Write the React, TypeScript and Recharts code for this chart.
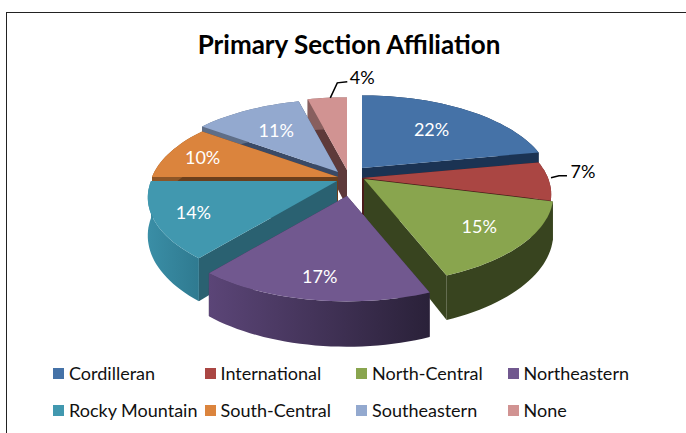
import { PieChart, Pie, Legend } from "recharts";

const sections = ["Cordilleran", "International", "North-Central", "Northeastern", "Rocky Mountain", "South-Central", "Southeastern", "None"];
const shares = [22, 7, 15, 17, 14, 10, 11, 4];

const topColors = ["#4572a7", "#aa4643", "#89a54e", "#71588f", "#4198af", "#db843d", "#93a9cf", "#d19392"];
const edgeColors = ["#1b3353", "#4a1c1b", "#38441f", "#3a2c4c", "#2a6171", "#6b3f1c", "#3a4a66", "#5e3a3a"];
const rimFrom = ["#1b3353", "#6e2c2b", "#38441f", "#5b4577", "#3a8ea6", "#8e5627", "#5f6e87", "#885f5e"];
const rimTo = ["#1b3353", "#6e2c2b", "#38441f", "#2a2139", "#2f7a90", "#8e5627", "#5f6e87", "#885f5e"];

// how far each slice is pulled out of the pie, in px
const pullX = [12, 12, 14, -3, -13, -12, -12, -3];
const pullY = [-10, 0, 1, 18, 3, -1, -6, -8];
const labelReach = [0.64, 1, 0.75, 0.8, 0.8, 0.8, 0.65, 1];

// back to front, so the front walls cover the rear ones
const wallOrder = [7, 6, 5, 0, 1, 4, 2, 3];

const table = sections.map((name, i) => ({ name, value: shares[i] }));

const CX = 350;
const CY = 178;
const RX = 186;
const RY = 86;
const PERSPECTIVE = 0.184;
const DEPTH = 37;

// 3d tilt: angle is clockwise from the top, far side of the pie is squeezed
function project(deg: number, reach = 1) {
  const a = (deg * Math.PI) / 180;
  const d = 1 + PERSPECTIVE * Math.cos(a) * reach;
  return { x: (Math.sin(a) * RX * reach) / d, y: (-Math.cos(a) * RY * reach) / d, d };
}

function arcPoints(p: any) {
  const from = 90 - p.startAngle;
  const to = 90 - p.endAngle;
  const n = Math.max(2, Math.ceil((to - from) / 2));
  const pts = [];
  for (let i = 0; i <= n; i++) pts.push(project(from + ((to - from) * i) / n));
  return pts;
}

const toPath = (pts: number[][]) => "M" + pts.map((q) => q[0].toFixed(1) + " " + q[1].toFixed(1)).join("L") + "Z";

function WallShape(p: any, only: number) {
  if (p.index !== only) return <g />;
  const ox = p.cx + pullX[only];
  const oy = p.cy + pullY[only];
  const arc = arcPoints(p);
  const first = arc[0];
  const last = arc[arc.length - 1];
  const top = arc.map((q) => [q.x, q.y]);
  const low = arc.map((q) => [q.x, q.y + DEPTH / q.d]).reverse();
  const side = (q: any) => toPath([[0, 0], [q.x, q.y], [q.x, q.y + DEPTH / q.d], [0, DEPTH]]);
  return (
    <g transform={`translate(${ox} ${oy})`}>
      <path d={side(first)} fill={edgeColors[only]} />
      <path d={side(last)} fill={edgeColors[only]} />
      <path d={toPath([...top, ...low])} fill={`url(#rim${only})`} />
    </g>
  );
}

function TopShape(p: any) {
  const ox = p.cx + pullX[p.index];
  const oy = p.cy + pullY[p.index];
  const pts = [[0, 0], ...arcPoints(p).map((q) => [q.x, q.y])];
  return <path transform={`translate(${ox} ${oy})`} d={toPath(pts)} fill={topColors[p.index]} />;
}

function PercentLabel(p: any) {
  const i = p.index;
  const q = project(90 - p.midAngle, labelReach[i]);
  const x = p.cx + pullX[i] + q.x;
  const y = p.cy + pullY[i] + q.y;
  const text = (tx: number, ty: number, fill: string) => (
    <text x={tx} y={ty} textAnchor="middle" dominantBaseline="central" fontSize={18} fontFamily="Lato" fill={fill}>
      {shares[i]}%
    </text>
  );
  // the two thin slices carry their label outside, on a leader
  if (i === 1) {
    return (
      <g>
        <polyline points={`${x + 2},${y - 3} ${x + 10},${y - 5} ${x + 18},${y - 5}`} fill="none" stroke="#000" strokeWidth={1.5} />
        {text(x + 34, y - 10, "#000")}
      </g>
    );
  }
  if (i === 7) {
    return (
      <g>
        <polyline points={`${x + 3},${y} ${x + 10},${y - 15} ${x + 20},${y - 16}`} fill="none" stroke="#000" strokeWidth={1.5} />
        {text(x + 35, y - 21, "#000")}
      </g>
    );
  }
  return text(x, y, "#fff");
}

function SectionLegend() {
  return (
    <div style={{ position: "absolute", left: 53, top: 361, display: "grid", gridTemplateColumns: "151.5px 151.5px 151.5px 150px", rowGap: 13, fontFamily: "Lato", fontSize: 18, lineHeight: "24px", color: "#111" }}>
      {sections.map((name, i) => (
        <div key={name} style={{ display: "flex", alignItems: "center", whiteSpace: "nowrap" }}>
          <span style={{ width: 11, height: 11, marginRight: 5, background: topColors[i] }} />
          {name}
        </div>
      ))}
    </div>
  );
}

export default function App() {
  return (
    <div style={{ position: "absolute", left: 0, top: 0, width: 686, height: 433, background: "#fff", overflow: "hidden" }}>
      <div style={{ position: "absolute", left: 6, top: 12, width: 700, height: 440, borderLeft: "1.5px solid #222", borderTop: "1.5px solid #222" }} />
      <PieChart width={686} height={433} margin={{ top: 0, right: 0, bottom: 0, left: 0 }} style={{ position: "absolute", left: 0, top: 0 }}>
        <defs>
          {sections.map((name, i) => (
            <linearGradient key={name} id={`rim${i}`} x1="0" y1="0" x2="1" y2="0">
              <stop offset="0%" stopColor={rimFrom[i]} />
              <stop offset="100%" stopColor={rimTo[i]} />
            </linearGradient>
          ))}
        </defs>
        <text x={349} y={54} textAnchor="middle" fontSize={26} fontWeight={700} fontFamily="Lato" fill="#000">
          Primary Section Affiliation
        </text>
        {wallOrder.map((only) => (
          <Pie
            key={only}
            data={table}
            dataKey="value"
            cx={CX}
            cy={CY}
            outerRadius={RX}
            startAngle={90}
            endAngle={-270}
            stroke="none"
            legendType="none"
            isAnimationActive={false}
            shape={(p: any) => WallShape(p, only)}
          />
        ))}
        <Pie
          data={table}
          dataKey="value"
          cx={CX}
          cy={CY}
          outerRadius={RX}
          startAngle={90}
          endAngle={-270}
          stroke="none"
          legendType="none"
          isAnimationActive={false}
          shape={TopShape}
          label={PercentLabel}
          labelLine={false}
        />
        <Legend verticalAlign="bottom" content={SectionLegend} wrapperStyle={{ position: "static" }} />
      </PieChart>
    </div>
  );
}
